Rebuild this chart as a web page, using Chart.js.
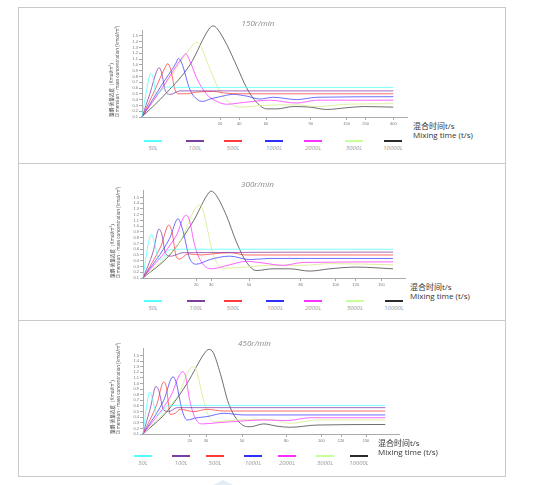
<!DOCTYPE html>
<html>
<head>
<meta charset="utf-8">
<script src="https://cdn.jsdelivr.net/npm/chart.js@4.4.0/dist/chart.umd.min.js"></script>
<style>
body{margin:0;width:560px;height:485px;background:#fff;position:relative;overflow:hidden;font-family:"Open Sans","Noto Sans",sans-serif}
.frame{position:absolute;left:18px;top:7px;width:486px;height:468px;border:1px solid #c9c9c9}
.sep{position:absolute;left:18px;width:488px;height:1px;background:#c9c9c9}
canvas{position:absolute}
.lg{position:absolute;width:18px;height:2px}
.lt{position:absolute;width:40px;text-align:center;font-size:6px;font-style:italic;color:#999;line-height:7px}
.xt{position:absolute;font-size:8px;line-height:9px;color:#333;font-family:"Open Sans","Noto Sans CJK SC",sans-serif;white-space:nowrap}
.tri{position:absolute;left:213px;top:480px;width:0;height:0;border-left:10px solid transparent;border-right:10px solid transparent;border-bottom:5px solid #e4ecf4}
</style>
</head>
<body>
<div class="frame"></div>
<div class="sep" style="top:163px"></div>
<div class="sep" style="top:320px"></div>
<div class="tri"></div>

<canvas id="c150" width="300" height="119" style="left:108px;top:10px"></canvas>
<canvas id="c300" width="297" height="120" style="left:109px;top:170px"></canvas>
<canvas id="c450" width="291" height="117" style="left:109px;top:329px"></canvas>

<div class="xt" style="left:413px;top:121px">混合时间t/s<br>Mixing time (t/s)</div>
<div class="xt" style="left:410px;top:282px">混合时间t/s<br>Mixing time (t/s)</div>
<div class="xt" style="left:378px;top:438px">混合时间t/s<br>Mixing time (t/s)</div>

<script>
var series = ['50L', '100L', '500L', '1000L', '2000L', '5000L', '10000L'];
var lineColors = ['rgba(80,255,255,0.75)', 'rgba(130,60,170,0.75)', 'rgba(255,60,60,0.75)', 'rgba(50,50,255,0.7)',
	'rgba(255,50,255,0.75)', 'rgba(215,240,150,0.9)', 'rgba(50,50,50,0.7)'];
var legendColors = ['#55ffff', '#7b3fa0', '#ff3b3b', '#2f2fff', '#ff2fff', '#c9ff9a', '#2b2b2b'];
var yTicks = [0.1, 0.2, 0.3, 0.4, 0.5, 0.6, 0.7, 0.8, 0.9, 1.0, 1.1, 1.2, 1.3, 1.4, 1.5];

// 150 r/min
var ticks150 = [78, 97.3, 124, 168.7, 204.7, 223.7, 251.3];
var tickLabels150 = ['20', '40', '60', '90', '150', '250', '400'];
var r150_50L = [[0,0.1],[4.7,0.57],[8.7,0.85],[11.3,0.77],[14,0.49],[18,0.54],[24.7,0.62],[34.7,0.61],[251.3,0.61]];
var r150_100L = [[0,0.1],[8,0.51],[14.7,0.89],[17,0.95],[19.7,0.86],[23,0.57],[28,0.49],[38,0.55],[251.3,0.55]];
var r150_500L = [[0,0.1],[13,0.57],[23,0.95],[25.7,1.02],[28.7,0.92],[33,0.57],[36.3,0.5],[44.7,0.5],[54.7,0.53],[71.3,0.54],[84.7,0.51],[98,0.5],[251.3,0.5]];
var r150_1000L = [[0,0.1],[20,0.66],[34,1.03],[36.3,1.11],[39.7,1.03],[48,0.57],[56.3,0.39],[61.3,0.37],[68,0.41],[78,0.45],[91.3,0.49],[104.7,0.46],[118,0.41],[131.3,0.44],[154.7,0.4],[174.7,0.44],[251.3,0.45]];
var r150_2000L = [[0,0.1],[21.3,0.63],[41.3,1.15],[43.7,1.19],[47.3,1.09],[54.7,0.77],[64.7,0.49],[74.7,0.37],[84.7,0.32],[101.3,0.35],[128,0.39],[154.7,0.34],[174.7,0.39],[251.3,0.39]];
var r150_5000L = [[0,0.1],[27,0.75],[51.3,1.35],[54,1.39],[58.7,1.32],[68,0.92],[78,0.54],[88,0.34],[98,0.27],[121.3,0.3],[154.7,0.31],[174.7,0.28],[204.7,0.32],[251.3,0.33]];
var r150_10000L = [[0,0.1],[24.7,0.52],[48,1.0],[68,1.64],[71.3,1.67],[75.3,1.62],[84.7,1.35],[94.7,0.98],[104.7,0.6],[114.7,0.35],[124.7,0.24],[134.7,0.24],[151.3,0.28],[168,0.27],[184.7,0.23],[204.7,0.26],[221.3,0.28],[251.3,0.27]];

// 300 r/min
var ticks300 = [53.3, 68.3, 106, 157.7, 192.7, 212.7, 238.3];
var tickLabels300 = ['20', '30', '50', '80', '100', '120', '150'];
var r300_50L = [[0,0.1],[5,0.67],[8.3,0.86],[11.7,0.7],[16,0.42],[20,0.45],[25,0.58],[33.3,0.6],[250,0.6]];
var r300_100L = [[0,0.1],[10,0.55],[16,0.95],[18.7,0.87],[22.7,0.52],[28.3,0.48],[40,0.54],[250,0.55]];
var r300_500L = [[0,0.1],[18.3,0.67],[25.7,1.02],[29,0.9],[33.3,0.47],[36.7,0.43],[45,0.52],[58.3,0.5],[70,0.52],[86.7,0.54],[103.3,0.5],[250,0.5]];
var r300_1000L = [[0,0.1],[26.7,0.79],[35,1.13],[39.3,0.96],[46.7,0.44],[53.3,0.34],[66.7,0.42],[86.7,0.48],[106.7,0.42],[126.7,0.44],[250,0.44]];
var r300_2000L = [[0,0.1],[33.3,0.84],[42.7,1.19],[46,1.13],[51.7,0.67],[58.3,0.38],[68.3,0.26],[86.7,0.33],[103.3,0.39],[120,0.36],[140,0.32],[160,0.37],[250,0.38]];
var r300_5000L = [[0,0.1],[36.7,0.73],[56.7,1.37],[60,1.28],[65,0.9],[70,0.52],[80,0.27],[103.3,0.29],[126.7,0.32],[160,0.32],[186.7,0.35],[250,0.33]];
var r300_10000L = [[0,0.1],[26.7,0.5],[50,1.08],[66.7,1.6],[68.3,1.61],[72.7,1.55],[83.3,1.19],[93.3,0.73],[103.3,0.38],[113.3,0.23],[130,0.26],[146.7,0.26],[166.7,0.22],[186.7,0.26],[213.3,0.29],[250,0.26]];

// 450 r/min
var ticks450 = [46.7, 63, 99, 143.3, 178.3, 198, 223];
var tickLabels450 = ['20', '30', '50', '80', '100', '120', '150'];
var r450_50L = [[0,0.1],[4,0.64],[6.7,0.85],[9.3,0.73],[14,0.44],[19,0.5],[24,0.6],[34,0.61],[242.3,0.61]];
var r450_100L = [[0,0.1],[7.3,0.56],[13,0.95],[15.7,0.88],[20.7,0.53],[25.7,0.5],[34,0.57],[242.3,0.57]];
var r450_500L = [[0,0.1],[14,0.64],[20.7,1.03],[23.3,0.94],[27.3,0.45],[32.3,0.47],[37.3,0.54],[50.7,0.5],[64,0.54],[80.7,0.51],[242.3,0.51]];
var r450_1000L = [[0,0.1],[20.7,0.7],[30,1.12],[33,1.03],[39,0.53],[44,0.35],[54,0.39],[64,0.41],[80.7,0.47],[100.7,0.44],[242.3,0.44]];
var r450_2000L = [[0,0.1],[27.3,0.76],[39.7,1.21],[42.3,1.15],[46.7,0.7],[52.3,0.38],[59,0.28],[74,0.3],[97.3,0.33],[120.7,0.35],[144,0.34],[167.3,0.39],[242.3,0.39]];
var r450_5000L = [[0,0.1],[34,0.76],[50,1.3],[53.3,1.24],[59,0.82],[65.7,0.41],[72.3,0.32],[94,0.35],[127.3,0.36],[147.3,0.29],[174,0.35],[242.3,0.35]];
var r450_10000L = [[0,0.1],[24,0.5],[44,1.0],[62.3,1.56],[65.7,1.61],[70,1.56],[77.3,1.18],[85.7,0.64],[97.3,0.29],[107.3,0.23],[120.7,0.28],[134,0.24],[147.3,0.22],[174,0.26],[242.3,0.27]];

var yTitle = ['量纲-质量浓度（Kmol/m³）', 'Dimension - mass concentration (kmol/m³)'];

function drawPanel(id, title, lines, xTicks, xLabels, xMax, yMax, titlePad) {
	new Chart(document.getElementById(id), {
		type: 'line',
		data: {
			datasets: lines.map(function(d, i) {
				return {
					label: series[i],
					data: d.map(function(p) { return {x: p[0], y: p[1]}; }),
					borderColor: lineColors[i],
					borderWidth: 1,
					pointRadius: 0,
					fill: false,
					cubicInterpolationMode: 'monotone',
					clip: false
				};
			})
		},
		options: {
			responsive: false,
			animation: false,
			layout: {padding: 0},
			plugins: {
				legend: {display: false},
				tooltip: {enabled: false},
				title: {
					display: true, text: title, color: '#8a8a8a',
					font: {size: 8, style: 'italic', weight: 'normal', family: '"Open Sans", sans-serif'},
					padding: {top: titlePad[0], bottom: titlePad[1]}
				}
			},
			scales: {
				x: {
					type: 'linear', min: 0, max: xMax,
					afterFit: function(s) { s.height = 12; },
					afterBuildTicks: function(s) { s.ticks = xTicks.map(function(v) { return {value: v}; }); },
					ticks: {
						callback: function(v, i) { return xLabels[i]; },
						font: {size: 4}, color: '#777', padding: 1, maxRotation: 0, autoSkip: false
					},
					grid: {drawOnChartArea: false, tickLength: 3, color: '#aaa'},
					border: {color: '#aaa'}
				},
				y: {
					type: 'linear', min: 0.1, max: yMax,
					afterFit: function(s) { s.width = 34; },
					afterBuildTicks: function(s) { s.ticks = yTicks.map(function(v) { return {value: v}; }); },
					ticks: {
						callback: function(v) { return v.toFixed(1); },
						font: {size: 4}, color: '#777', padding: 1, autoSkip: false
					},
					grid: {drawOnChartArea: false, tickLength: 3, color: '#aaa'},
					border: {color: '#aaa'},
					title: {
						display: true, text: yTitle, align: 'start', color: '#444',
						font: {size: 4.6, lineHeight: 1.25, family: '"Open Sans", "Noto Sans CJK SC", sans-serif'},
						padding: {top: 1, bottom: 0}
					}
				}
			}
		}
	});
}

drawPanel('c150', '150r/min', [r150_50L, r150_100L, r150_500L, r150_1000L, r150_2000L, r150_5000L, r150_10000L],
	ticks150, tickLabels150, 266, 1.6, [9.2, 1.2]);
drawPanel('c300', '300r/min', [r300_50L, r300_100L, r300_500L, r300_1000L, r300_2000L, r300_5000L, r300_10000L],
	ticks300, tickLabels300, 263, 1.63, [10.2, 0.2]);
drawPanel('c450', '450r/min', [r450_50L, r450_100L, r450_500L, r450_1000L, r450_2000L, r450_5000L, r450_10000L],
	ticks450, tickLabels450, 257, 1.62, [10.2, 0]);

// HTML legends, one row per panel
function legendRow(centers, lineY) {
	centers.forEach(function(cx, i) {
		var l = document.createElement('div');
		l.className = 'lg';
		l.style.left = (cx - 9) + 'px';
		l.style.top = (lineY - 1) + 'px';
		l.style.background = legendColors[i];
		document.body.appendChild(l);
		var t = document.createElement('div');
		t.className = 'lt';
		t.style.left = (cx - 20) + 'px';
		t.style.top = (lineY + 4) + 'px';
		t.textContent = series[i];
		document.body.appendChild(t);
	});
}
legendRow([153, 195, 233, 274, 313, 354, 393], 141);
legendRow([153, 196, 233, 275, 313, 355, 394], 301);
legendRow([143, 181, 215, 253, 287, 325, 359], 456);
</script>
</body>
</html>
